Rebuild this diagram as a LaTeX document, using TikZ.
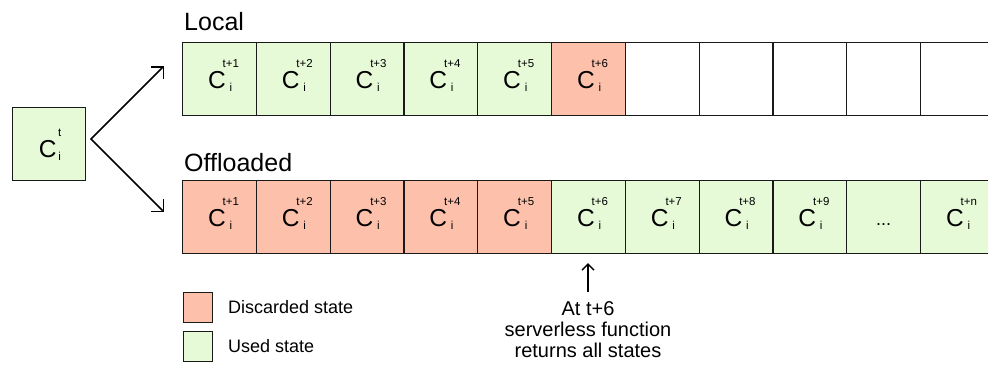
\documentclass[tikz,border=0pt]{standalone}
\usepackage{fontspec}
\setmainfont{Liberation Sans}
\usetikzlibrary{arrows.meta}
\definecolor{usedg}{HTML}{E6FAD8}
\definecolor{discr}{HTML}{FDC1AB}
\definecolor{edgec}{HTML}{1A1A1A}
\newcommand\supf{\fontsize{11.5}{12}\selectfont}
\newcommand\cst[2][-3pt]{C\kern#1\sbox0{\supf #2}\rlap{\raisebox{21pt}{\usebox0}}\makebox[\wd0]{\raisebox{-3pt}{\supf i}}}
\begin{document}
\begin{tikzpicture}[x=1pt,y=-1pt,
  cellbox/.style={draw=edgec, line width=1.2pt, minimum width=73.8pt, minimum height=73pt, inner sep=0pt, anchor=north west},
  ctext/.style={anchor=base, inner sep=0pt, font=\fontsize{24.5}{24}\selectfont},
  title/.style={anchor=base west, inner sep=0pt, font=\fontsize{25}{25}\selectfont},
  legtext/.style={anchor=base west, inner sep=0pt, font=\fontsize{18}{18}\selectfont},
  anntext/.style={anchor=base, inner sep=0pt, font=\fontsize{20}{20}\selectfont},
  legbox/.style={draw=edgec, line width=1.2pt, minimum width=29pt, minimum height=30pt, inner sep=0pt, anchor=north west},
  bigarrow/.style={line width=1.5pt, draw=black},
  usedc/.style={fill=usedg},
  discc/.style={fill=discr},
  emptyc/.style={fill=white}]
\useasboundingbox (0,0) rectangle (988,370);
\clip (0,0) rectangle (988,370);
\fill[white] (0,0) rectangle (988,370);

% initial state
\node[cellbox, usedc, minimum width=73pt] (c0) at (12,107) {};
\node[ctext] (c0t) at ([xshift=1pt, yshift=-13.5pt]c0.center) {\cst[1.5pt]{t}};

% titles
\node[title] (local) at (184,30) {Local};
\node[title] (offl) at (184,171) {Offloaded};

% local row
\foreach \i/\sty/\lab in {1/usedc/t+1,2/usedc/t+2,3/usedc/t+3,4/usedc/t+4,5/usedc/t+5,6/discc/t+6}{
  \node[cellbox, \sty] (l\i) at ({182+(\i-1)*73.8},42) {};
  \node[ctext] (l\i t) at ([xshift=4pt, yshift=-9.5pt]l\i.center) {\cst{\lab}};
}
\foreach \i in {7,...,11}{
  \node[cellbox, emptyc] (l\i) at ({182+(\i-1)*73.8},42) {};
}

% offloaded row
\foreach \i/\sty/\lab in {1/discc/t+1,2/discc/t+2,3/discc/t+3,4/discc/t+4,5/discc/t+5,6/usedc/t+6,7/usedc/t+7,8/usedc/t+8,9/usedc/t+9,11/usedc/t+n}{
  \node[cellbox, \sty] (o\i) at ({182+(\i-1)*73.8},180) {};
  \node[ctext] (o\i t) at ([xshift=4pt, yshift=-9.5pt]o\i.center) {\cst{\lab}};
}
\node[cellbox, usedc] (o10) at ({182+9*73.8},180) {};
\node[anchor=base, inner sep=0pt, font=\fontsize{18}{18}\selectfont] (o10t) at ([yshift=-8.5pt]o10.center) {...};

% split arrows
\coordinate (apex) at (91,139);
\coordinate (upend) at (164,66);
\coordinate (downend) at (164,212);
\draw[bigarrow, {Straight Barb[length=8.5pt,width=17pt]}-{Straight Barb[length=8.5pt,width=17pt]}] (upend) -- (apex) -- (downend);

% legend
\node[legbox, discc] (legd) at (183,292) {};
\node[legbox, usedc] (legu) at (183,331) {};
\node[legtext] (legdt) at (228,313) {Discarded state};
\node[legtext] (legut) at (228,352) {Used state};

% annotation
\node[anntext] (ann1) at (588,315) {At t+6};
\node[anntext] (ann2) at (588,336) {serverless function};
\node[anntext] (ann3) at (588,357) {returns all states};
\draw[line width=1.4pt, -{Straight Barb[length=6pt,width=12pt]}, shorten <=8.5pt, shorten >=9pt] (ann1.north) -- (ann1.north |- o6.south);
\end{tikzpicture}
\end{document}
